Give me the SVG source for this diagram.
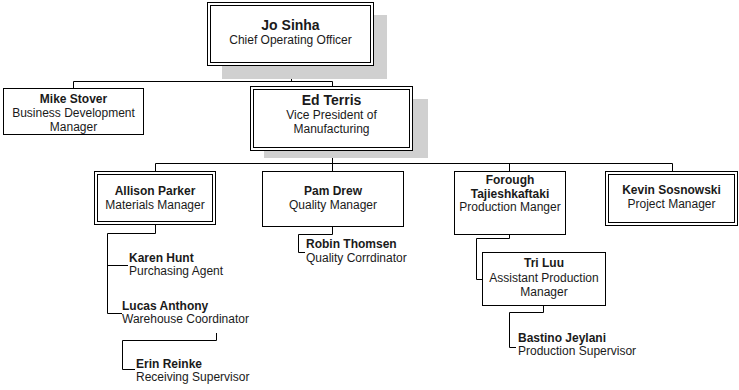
<svg xmlns="http://www.w3.org/2000/svg" width="739" height="390" viewBox="0 0 739 390">
<style>
.box{fill:#fff;stroke:#000;stroke-width:1}
.shadow{fill:#d0d0d0}
.ln{fill:none;stroke:#000;stroke-width:1}
text{font-family:"Liberation Sans",Arial,sans-serif;font-size:12px;fill:#1a1a1a}
.c{text-anchor:middle}
.n{font-weight:bold}
.big{font-size:14px}
</style>
<rect width="739" height="390" fill="#fff"/>
<g id="connectors">
<path class="ln" d="M291.5 66 V81.5 M73.5 88 V81.5 H332.5 V86"/>
<path class="ln" d="M332.5 150.5 V171 M155.5 171 V163.5 H672.5 V171 M509.5 163.5 V171"/>
<path class="ln" d="M155.5 224.5 V233.5 H107.5 V313.5 H122 M107.5 265.5 H128"/>
<path class="ln" d="M216.5 333 V340.5 H122.5 V369.5 H135"/>
<path class="ln" d="M332.5 226.5 V234.5 H298.5 V252.5 H305"/>
<path class="ln" d="M509.5 234.5 V238.5 H476.5 V279.5 H482"/>
<path class="ln" d="M543.5 305.5 V312.5 H509.5 V347.5 H516"/>
</g>
<g id="jo">
<rect class="shadow" x="222" y="15" width="165" height="64"/>
<rect class="box" x="207.5" y="2.5" width="166" height="63"/>
<rect class="box" x="210.5" y="5.5" width="160" height="57"/>
<text class="c n big" x="290.5" y="30">Jo Sinha</text>
<text class="c" x="290.5" y="44">Chief Operating Officer</text>
</g>
<g id="mike">
<rect class="box" x="3.5" y="88.5" width="140" height="46"/>
<text class="c n" x="73.5" y="103">Mike Stover</text>
<text class="c" x="73.5" y="117">Business Development</text>
<text class="c" x="73.5" y="131">Manager</text>
</g>
<g id="ed">
<rect class="shadow" x="264" y="99" width="164" height="59"/>
<rect class="box" x="250.5" y="86.5" width="162" height="64"/>
<rect class="box" x="253.5" y="89.5" width="156" height="58"/>
<text class="c n big" x="331.5" y="105">Ed Terris</text>
<text class="c" x="331.5" y="119">Vice President of</text>
<text class="c" x="331.5" y="133">Manufacturing</text>
</g>
<g id="allison">
<rect class="box" x="94.5" y="171.5" width="121" height="53"/>
<rect class="box" x="97.5" y="174.5" width="115" height="47"/>
<text class="c n" x="155" y="195">Allison Parker</text>
<text class="c" x="155" y="209">Materials Manager</text>
</g>
<g id="pam">
<rect class="box" x="262.5" y="171.5" width="141" height="55"/>
<text class="c n" x="333" y="195">Pam Drew</text>
<text class="c" x="333" y="209">Quality Manager</text>
</g>
<g id="forough">
<rect class="box" x="454.5" y="171.5" width="111" height="63"/>
<text class="c n" x="510" y="184">Forough</text>
<text class="c n" x="510" y="197.5">Tajieshkaftaki</text>
<text class="c" x="510" y="211">Production Manger</text>
</g>
<g id="kevin">
<rect class="box" x="605.5" y="171.5" width="132" height="54"/>
<rect class="box" x="608.5" y="174.5" width="126" height="48"/>
<text class="c n" x="671.5" y="194">Kevin Sosnowski</text>
<text class="c" x="671.5" y="208">Project Manager</text>
</g>
<g id="karen">
<text class="n" x="129" y="261.5">Karen Hunt</text>
<text x="129" y="275">Purchasing Agent</text>
</g>
<g id="lucas">
<text class="n" x="122" y="309.5">Lucas Anthony</text>
<text x="122" y="323">Warehouse Coordinator</text>
</g>
<g id="erin">
<text class="n" x="136" y="367.5">Erin Reinke</text>
<text x="136" y="381">Receiving Supervisor</text>
</g>
<g id="robin">
<text class="n" x="306" y="248">Robin Thomsen</text>
<text x="306" y="261.5">Quality Corrdinator</text>
</g>
<g id="triluu">
<rect class="box" x="482.5" y="252.5" width="123" height="53"/>
<text class="c n" x="544" y="267">Tri Luu</text>
<text class="c" x="544" y="281.5">Assistant Production</text>
<text class="c" x="544" y="296">Manager</text>
</g>
<g id="bastino">
<text class="n" x="518" y="341.5">Bastino Jeylani</text>
<text x="518" y="355">Production Supervisor</text>
</g>
</svg>
